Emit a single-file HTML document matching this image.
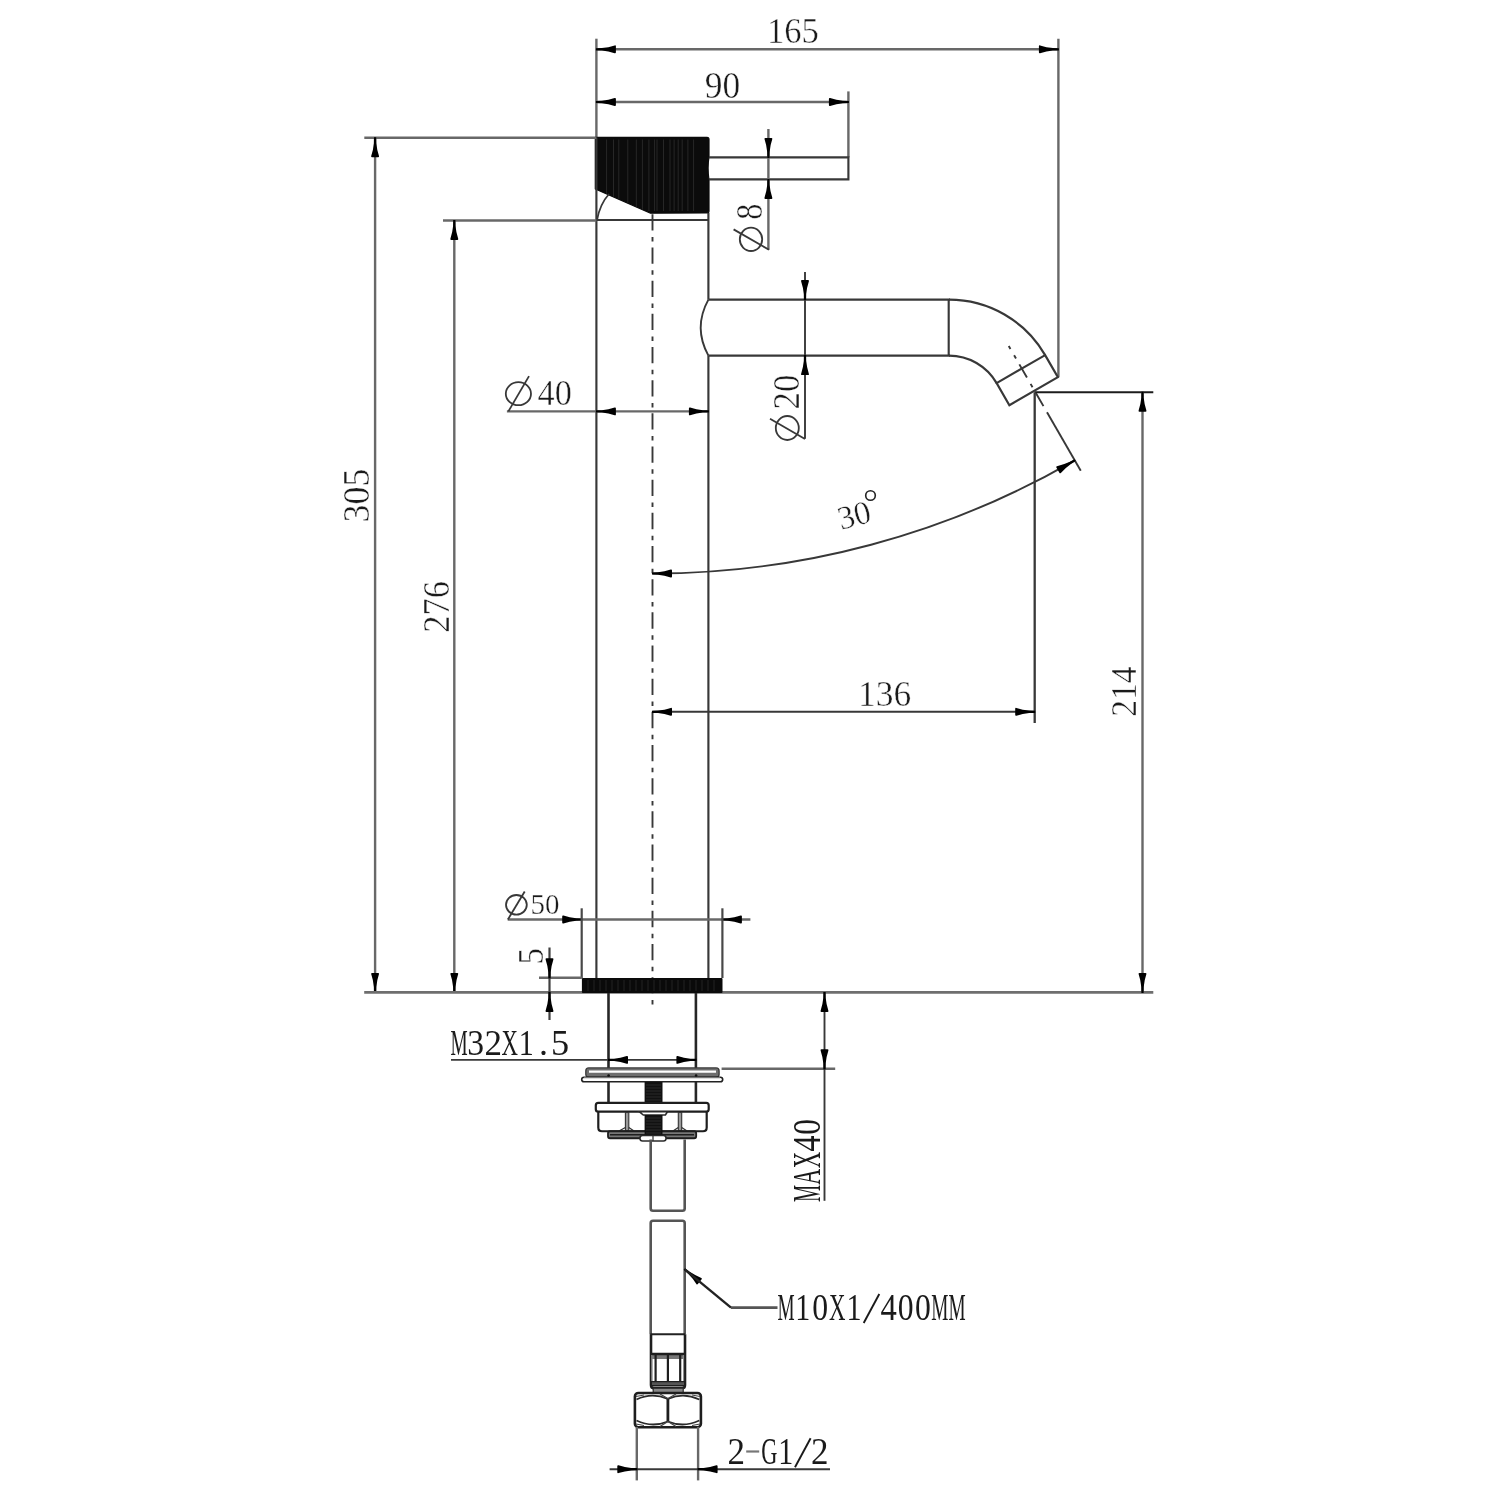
<!DOCTYPE html>
<html><head><meta charset="utf-8"><title>Faucet drawing</title>
<style>html,body{margin:0;padding:0;background:#fff;} svg{display:block;filter:blur(0.45px);}</style></head>
<body><svg width="1500" height="1500" viewBox="0 0 1500 1500" font-family="Liberation Serif, serif">
<defs><path id="ar" d="M0.5,-1.1 L-5.5,-1.2 Q-12,-1.8 -18.3,-3.9 Q-19.5,-4.2 -19.5,-3 L-19.5,3 Q-19.5,4.2 -18.3,3.9 Q-12,1.8 -5.5,1.2 L0.5,1.1 Z" fill="#000"/></defs>
<rect width="1500" height="1500" fill="#fff"/>
<line x1="596.40" y1="38.70" x2="596.40" y2="137.50" stroke="#686868" stroke-width="2.4" />
<line x1="1058.40" y1="38.70" x2="1058.40" y2="377.00" stroke="#686868" stroke-width="2.4" />
<line x1="596.40" y1="49.30" x2="1058.40" y2="49.30" stroke="#686868" stroke-width="2.4" />
<use href="#ar" transform="translate(596.40,49.30) rotate(180.00)"/>
<use href="#ar" transform="translate(1058.40,49.30) rotate(0.00)"/>
<line x1="596.40" y1="102.00" x2="848.40" y2="102.00" stroke="#686868" stroke-width="2.4" />
<line x1="848.40" y1="91.40" x2="848.40" y2="157.40" stroke="#686868" stroke-width="2.4" />
<use href="#ar" transform="translate(596.40,102.00) rotate(180.00)"/>
<use href="#ar" transform="translate(848.40,102.00) rotate(0.00)"/>
<path d="M595.3,137.3 L707,137.3 Q709,137.3 709,139.3 L709,156.4 Q707.2,168 709,180 L709,211 Q709,213 707,213 L650.5,213.2 L595.3,188.9 Z" fill="#0b0b0b" stroke="#0b0b0b" stroke-width="1.2" stroke-linejoin="round"/>
<clipPath id="hb"><path d="M595.5,137 L709,137 L709,213 L650.5,213 L596,189 Z"/></clipPath>
<line x1="606.6" y1="139.5" x2="606.6" y2="211" stroke="#272727" stroke-width="1" clip-path="url(#hb)"/>
<line x1="613.5" y1="139.5" x2="613.5" y2="211" stroke="#272727" stroke-width="1" clip-path="url(#hb)"/>
<line x1="618.8" y1="139.5" x2="618.8" y2="211" stroke="#272727" stroke-width="1" clip-path="url(#hb)"/>
<line x1="627.8" y1="139.5" x2="627.8" y2="211" stroke="#272727" stroke-width="1" clip-path="url(#hb)"/>
<line x1="636.3" y1="139.5" x2="636.3" y2="211" stroke="#272727" stroke-width="1" clip-path="url(#hb)"/>
<line x1="642.4" y1="139.5" x2="642.4" y2="211" stroke="#272727" stroke-width="1" clip-path="url(#hb)"/>
<line x1="648.9" y1="139.5" x2="648.9" y2="211" stroke="#272727" stroke-width="1" clip-path="url(#hb)"/>
<line x1="654.6" y1="139.5" x2="654.6" y2="211" stroke="#272727" stroke-width="1" clip-path="url(#hb)"/>
<line x1="657" y1="139.5" x2="657" y2="211" stroke="#272727" stroke-width="1" clip-path="url(#hb)"/>
<line x1="663.5" y1="139.5" x2="663.5" y2="211" stroke="#272727" stroke-width="1" clip-path="url(#hb)"/>
<line x1="670" y1="139.5" x2="670" y2="211" stroke="#272727" stroke-width="1" clip-path="url(#hb)"/>
<line x1="674.1" y1="139.5" x2="674.1" y2="211" stroke="#272727" stroke-width="1" clip-path="url(#hb)"/>
<line x1="678.2" y1="139.5" x2="678.2" y2="211" stroke="#272727" stroke-width="1" clip-path="url(#hb)"/>
<line x1="682.2" y1="139.5" x2="682.2" y2="211" stroke="#272727" stroke-width="1" clip-path="url(#hb)"/>
<line x1="687.9" y1="139.5" x2="687.9" y2="211" stroke="#272727" stroke-width="1" clip-path="url(#hb)"/>
<line x1="693.6" y1="139.5" x2="693.6" y2="211" stroke="#272727" stroke-width="1" clip-path="url(#hb)"/>
<path d="M597,220 Q600,204 609,194" stroke="#383838" stroke-width="1.8" fill="none" />
<path d="M709,157.4 L848.4,157.4 L848.4,179.4 L709,179.4" stroke="#383838" stroke-width="2.15" fill="none" />
<line x1="596.40" y1="137.50" x2="596.40" y2="978.00" stroke="#383838" stroke-width="2.15" />
<line x1="708.40" y1="213.00" x2="708.40" y2="299.60" stroke="#383838" stroke-width="2.15" />
<line x1="708.40" y1="355.60" x2="708.40" y2="978.00" stroke="#383838" stroke-width="2.15" />
<line x1="596.40" y1="220.00" x2="708.40" y2="220.00" stroke="#383838" stroke-width="2.15" />
<line x1="652.50" y1="214.30" x2="652.50" y2="1005.60" stroke="#383838" stroke-width="1.9" stroke-dasharray="16.3 6.5 4.5 5.87"/>
<line x1="364.30" y1="137.80" x2="596.40" y2="137.80" stroke="#686868" stroke-width="2.4" />
<line x1="375.10" y1="137.80" x2="375.10" y2="992.40" stroke="#686868" stroke-width="2.4" />
<use href="#ar" transform="translate(375.10,137.80) rotate(-90.00)"/>
<use href="#ar" transform="translate(375.10,992.40) rotate(90.00)"/>
<line x1="443.00" y1="220.50" x2="596.40" y2="220.50" stroke="#686868" stroke-width="2.4" />
<line x1="454.30" y1="220.50" x2="454.30" y2="992.40" stroke="#686868" stroke-width="2.4" />
<use href="#ar" transform="translate(454.30,220.50) rotate(-90.00)"/>
<use href="#ar" transform="translate(454.30,992.40) rotate(90.00)"/>
<line x1="364.20" y1="992.40" x2="1153.30" y2="992.40" stroke="#6e6e6e" stroke-width="2.8" />
<line x1="768.40" y1="129.00" x2="768.40" y2="249.80" stroke="#686868" stroke-width="2.4" />
<use href="#ar" transform="translate(768.40,157.40) rotate(90.00)"/>
<use href="#ar" transform="translate(768.40,179.40) rotate(-90.00)"/>
<ellipse cx="751" cy="239.3" rx="11.2" ry="11.7" fill="none" stroke="#383838" stroke-width="1.8"/>
<line x1="733.60" y1="229.40" x2="769.00" y2="249.80" stroke="#383838" stroke-width="1.8" />
<path d="M708.4,299.6 Q693,327.6 708.4,355.6" stroke="#383838" stroke-width="1.9" fill="none" />
<line x1="708.40" y1="299.60" x2="950.00" y2="299.60" stroke="#383838" stroke-width="2.15" />
<line x1="708.40" y1="355.60" x2="950.00" y2="355.60" stroke="#383838" stroke-width="2.15" />
<line x1="948.70" y1="299.60" x2="948.70" y2="355.60" stroke="#383838" stroke-width="2.15" />
<path d="M949,299.60 A111.0,111.0 0 0 1 1045.13,355.10" stroke="#383838" stroke-width="2.15" fill="none" />
<path d="M949,355.60 A55.0,55.0 0 0 1 996.63,383.10" stroke="#383838" stroke-width="2.15" fill="none" />
<path d="M1045.13,355.10 L1057.88,377.18 L1009.38,405.18 L996.63,383.10 Z" stroke="#383838" stroke-width="2.15" fill="none" />
<line x1="1008.75" y1="346.04" x2="1047.00" y2="412.29" stroke="#383838" stroke-width="1.9" stroke-dasharray="15.2 7.3 3.8 6.7" stroke-dashoffset="11.8"/>
<line x1="1047.00" y1="412.29" x2="1080.75" y2="470.75" stroke="#383838" stroke-width="1.9" />
<path d="M652.5,573.50 A844.5,844.5 0 0 0 1074.75,460.36" stroke="#383838" stroke-width="1.9" fill="none" />
<use href="#ar" transform="translate(652.50,573.50) rotate(180.00)"/>
<use href="#ar" transform="translate(1074.75,460.36) rotate(-30.00)"/>
<text x="0" y="0" font-family="Liberation Serif" font-size="33" fill="#1a1a1a" stroke="#fff" stroke-width="0.43" transform="translate(841,530) rotate(-15)">30</text>
<circle cx="870.5" cy="495.5" r="4.8" fill="none" stroke="#222" stroke-width="1.6"/>
<line x1="1034.70" y1="392.30" x2="1153.30" y2="392.30" stroke="#1c1c1c" stroke-width="2.1" />
<line x1="1034.70" y1="392.30" x2="1034.70" y2="723.00" stroke="#383838" stroke-width="2.3" />
<line x1="1142.50" y1="392.30" x2="1142.50" y2="992.40" stroke="#686868" stroke-width="2.4" />
<use href="#ar" transform="translate(1142.50,392.30) rotate(-90.00)"/>
<use href="#ar" transform="translate(1142.50,992.40) rotate(90.00)"/>
<line x1="652.50" y1="711.80" x2="1034.70" y2="711.80" stroke="#383838" stroke-width="1.9" />
<use href="#ar" transform="translate(652.50,711.80) rotate(180.00)"/>
<use href="#ar" transform="translate(1034.70,711.80) rotate(0.00)"/>
<line x1="805.00" y1="272.00" x2="805.00" y2="438.70" stroke="#383838" stroke-width="1.9" />
<use href="#ar" transform="translate(805.00,299.60) rotate(90.00)"/>
<use href="#ar" transform="translate(805.00,355.60) rotate(-90.00)"/>
<ellipse cx="787.3" cy="428" rx="11.5" ry="12" fill="none" stroke="#383838" stroke-width="1.8"/>
<line x1="770.00" y1="418.70" x2="805.00" y2="439.00" stroke="#383838" stroke-width="1.8" />
<line x1="506.90" y1="411.40" x2="708.40" y2="411.40" stroke="#686868" stroke-width="2.4" />
<use href="#ar" transform="translate(596.40,411.40) rotate(180.00)"/>
<use href="#ar" transform="translate(708.40,411.40) rotate(0.00)"/>
<ellipse cx="518.4" cy="393.7" rx="12.6" ry="11.5" fill="none" stroke="#383838" stroke-width="1.8"/>
<line x1="508.40" y1="411.40" x2="529.00" y2="376.10" stroke="#383838" stroke-width="1.8" />
<line x1="507.70" y1="919.50" x2="750.40" y2="919.50" stroke="#686868" stroke-width="2.4" />
<use href="#ar" transform="translate(581.70,919.50) rotate(0.00)"/>
<use href="#ar" transform="translate(722.40,919.50) rotate(180.00)"/>
<line x1="581.70" y1="908.30" x2="581.70" y2="978.00" stroke="#484848" stroke-width="2.2" />
<line x1="722.40" y1="908.30" x2="722.40" y2="978.00" stroke="#484848" stroke-width="2.2" />
<ellipse cx="516.4" cy="904.8" rx="10.4" ry="9.8" fill="none" stroke="#383838" stroke-width="1.8"/>
<line x1="507.90" y1="919.50" x2="524.70" y2="891.50" stroke="#383838" stroke-width="1.8" />
<rect x="581.9" y="978.1" width="140.6" height="14.8" fill="#0a0a0a" rx="1"/>
<line x1="588" y1="980" x2="588" y2="991" stroke="#2a2a2a" stroke-width="0.8"/>
<line x1="594" y1="980" x2="594" y2="991" stroke="#2a2a2a" stroke-width="0.8"/>
<line x1="600" y1="980" x2="600" y2="991" stroke="#2a2a2a" stroke-width="0.8"/>
<line x1="606" y1="980" x2="606" y2="991" stroke="#2a2a2a" stroke-width="0.8"/>
<line x1="612" y1="980" x2="612" y2="991" stroke="#2a2a2a" stroke-width="0.8"/>
<line x1="618" y1="980" x2="618" y2="991" stroke="#2a2a2a" stroke-width="0.8"/>
<line x1="624" y1="980" x2="624" y2="991" stroke="#2a2a2a" stroke-width="0.8"/>
<line x1="630" y1="980" x2="630" y2="991" stroke="#2a2a2a" stroke-width="0.8"/>
<line x1="636" y1="980" x2="636" y2="991" stroke="#2a2a2a" stroke-width="0.8"/>
<line x1="642" y1="980" x2="642" y2="991" stroke="#2a2a2a" stroke-width="0.8"/>
<line x1="648" y1="980" x2="648" y2="991" stroke="#2a2a2a" stroke-width="0.8"/>
<line x1="654" y1="980" x2="654" y2="991" stroke="#2a2a2a" stroke-width="0.8"/>
<line x1="660" y1="980" x2="660" y2="991" stroke="#2a2a2a" stroke-width="0.8"/>
<line x1="666" y1="980" x2="666" y2="991" stroke="#2a2a2a" stroke-width="0.8"/>
<line x1="672" y1="980" x2="672" y2="991" stroke="#2a2a2a" stroke-width="0.8"/>
<line x1="678" y1="980" x2="678" y2="991" stroke="#2a2a2a" stroke-width="0.8"/>
<line x1="684" y1="980" x2="684" y2="991" stroke="#2a2a2a" stroke-width="0.8"/>
<line x1="690" y1="980" x2="690" y2="991" stroke="#2a2a2a" stroke-width="0.8"/>
<line x1="696" y1="980" x2="696" y2="991" stroke="#2a2a2a" stroke-width="0.8"/>
<line x1="702" y1="980" x2="702" y2="991" stroke="#2a2a2a" stroke-width="0.8"/>
<line x1="708" y1="980" x2="708" y2="991" stroke="#2a2a2a" stroke-width="0.8"/>
<line x1="714" y1="980" x2="714" y2="991" stroke="#2a2a2a" stroke-width="0.8"/>
<line x1="539.00" y1="977.70" x2="581.90" y2="977.70" stroke="#686868" stroke-width="2.4" />
<line x1="549.50" y1="947.50" x2="549.50" y2="1020.00" stroke="#404040" stroke-width="2.2" />
<use href="#ar" transform="translate(549.50,977.70) rotate(90.00)"/>
<use href="#ar" transform="translate(549.50,992.40) rotate(-90.00)"/>
<line x1="608.50" y1="992.90" x2="608.50" y2="1103.00" stroke="#262626" stroke-width="2.6" />
<line x1="695.90" y1="992.90" x2="695.90" y2="1103.00" stroke="#262626" stroke-width="2.6" />
<line x1="451.00" y1="1059.90" x2="695.90" y2="1059.90" stroke="#383838" stroke-width="1.9" />
<use href="#ar" transform="translate(608.50,1059.90) rotate(180.00)"/>
<use href="#ar" transform="translate(695.90,1059.90) rotate(0.00)"/>
<rect x="585.8" y="1067.9" width="133.3" height="9.3" rx="3" fill="#6e6e6e" stroke="#3a3a3a" stroke-width="1.3"/>
<line x1="589" y1="1071.7" x2="716" y2="1071.7" stroke="#fff" stroke-width="2.2"/>
<rect x="581.7" y="1077.2" width="141" height="4.6" rx="2.3" fill="#fff" stroke="#222" stroke-width="1.6"/>
<line x1="584" y1="1077.6" x2="720" y2="1077.6" stroke="#777" stroke-width="1.2"/>
<circle cx="608.6" cy="1075.5" r="1.3" fill="#111"/><circle cx="696.1" cy="1075.5" r="1.3" fill="#111"/>
<line x1="721.60" y1="1068.80" x2="835.20" y2="1068.80" stroke="#686868" stroke-width="2.4" />
<line x1="824.50" y1="992.40" x2="824.50" y2="1200.80" stroke="#383838" stroke-width="1.9" />
<use href="#ar" transform="translate(824.50,992.40) rotate(-90.00)"/>
<use href="#ar" transform="translate(824.50,1068.80) rotate(90.00)"/>
<rect x="644.6" y="1082" width="17.9" height="21" fill="#111"/>
<line x1="646" y1="1085" x2="661" y2="1085" stroke="#333" stroke-width="0.7"/>
<line x1="646" y1="1088" x2="661" y2="1088" stroke="#333" stroke-width="0.7"/>
<line x1="646" y1="1091" x2="661" y2="1091" stroke="#333" stroke-width="0.7"/>
<line x1="646" y1="1094" x2="661" y2="1094" stroke="#333" stroke-width="0.7"/>
<line x1="646" y1="1097" x2="661" y2="1097" stroke="#333" stroke-width="0.7"/>
<line x1="646" y1="1100" x2="661" y2="1100" stroke="#333" stroke-width="0.7"/>
<rect x="595.8" y="1102.9" width="112.9" height="8.8" rx="2.5" fill="#fff" stroke="#1e1e1e" stroke-width="2.2"/>
<path d="M598.3,1111.7 L598.3,1127.5 Q598.3,1131.25 602,1131.25 L703,1131.25 Q706.7,1131.25 706.7,1127.5 L706.7,1111.7" stroke="#1e1e1e" stroke-width="2.2" fill="none" />
<path d="M639.2,1111.7 L643.3,1115 L665.4,1115 L667.5,1111.7 Z" fill="#fff" stroke="#2a2a2a" stroke-width="1.6"/>
<rect x="625.4" y="1112.5" width="3.4" height="18" fill="#999" stroke="#333" stroke-width="1.1"/>
<rect x="678.3" y="1112.5" width="3.4" height="18" fill="#999" stroke="#333" stroke-width="1.1"/>
<path d="M619,1131 L625.4,1127.5 M628.8,1127.5 L634,1131 M673,1131 L678.3,1127.5 M681.7,1127.5 L687,1131" stroke="#333" stroke-width="1.3" fill="none" />
<rect x="608" y="1131.25" width="88.2" height="7" rx="2" fill="#777" stroke="#1e1e1e" stroke-width="1.8"/>
<line x1="610" y1="1134.8" x2="694" y2="1134.8" stroke="#1e1e1e" stroke-width="1.4"/>
<rect x="644.6" y="1115" width="17.9" height="21" fill="#111"/>
<line x1="646" y1="1118" x2="661" y2="1118" stroke="#333" stroke-width="0.7"/>
<line x1="646" y1="1121" x2="661" y2="1121" stroke="#333" stroke-width="0.7"/>
<line x1="646" y1="1124" x2="661" y2="1124" stroke="#333" stroke-width="0.7"/>
<line x1="646" y1="1127" x2="661" y2="1127" stroke="#333" stroke-width="0.7"/>
<line x1="646" y1="1130" x2="661" y2="1130" stroke="#333" stroke-width="0.7"/>
<line x1="646" y1="1133" x2="661" y2="1133" stroke="#333" stroke-width="0.7"/>
<rect x="640" y="1135.5" width="26" height="5.5" rx="2.5" fill="#fff" stroke="#2a2a2a" stroke-width="1.5"/>
<line x1="653.00" y1="1136.00" x2="653.00" y2="1141.00" stroke="#2a2a2a" stroke-width="1.2" />
<path d="M650.7,1139.5 L650.7,1208.5 Q650.7,1210.7 653,1210.7 L682.4,1210.7 Q684.7,1210.7 684.7,1208.5 L684.7,1139.5" stroke="#555" stroke-width="2.6" fill="none" />
<path d="M650.7,1334.3 L650.7,1223 Q650.7,1220.7 653,1220.7 L682.4,1220.7 Q684.7,1220.7 684.7,1223 L684.7,1334.3" stroke="#555" stroke-width="2.6" fill="none" />
<use href="#ar" transform="translate(684.70,1269.30) rotate(219.40)"/>
<path d="M684.7,1269.3 L731,1307.6" stroke="#222" stroke-width="2.4" fill="none" />
<path d="M731,1307.6 L777.5,1307.6" stroke="#555" stroke-width="2.6" fill="none" />
<path d="M650.4,1334.3 L685,1334.3" stroke="#222" stroke-width="2" fill="none" />
<path d="M651,1334.3 L651,1385 Q651,1388.2 654,1388.2 L682,1388.2 Q685,1388.2 685,1385 L685,1334.3" stroke="#1e1e1e" stroke-width="2.6" fill="none" />
<rect x="652" y="1354" width="32" height="5" fill="#777"/>
<line x1="651" y1="1354" x2="685" y2="1354" stroke="#1e1e1e" stroke-width="2.4"/>
<line x1="655.60" y1="1355.00" x2="655.60" y2="1382.00" stroke="#1e1e1e" stroke-width="2.2" />
<line x1="667.90" y1="1355.00" x2="667.90" y2="1382.00" stroke="#1e1e1e" stroke-width="2.2" />
<line x1="680.20" y1="1355.00" x2="680.20" y2="1382.00" stroke="#1e1e1e" stroke-width="2.2" />
<line x1="651.70" y1="1355.00" x2="651.70" y2="1382.00" stroke="#888" stroke-width="1" />
<line x1="683.60" y1="1355.00" x2="683.60" y2="1382.00" stroke="#888" stroke-width="1" />
<rect x="652" y="1381.3" width="32" height="4.8" fill="#555"/>
<line x1="651.00" y1="1381.60" x2="685.00" y2="1381.60" stroke="#1e1e1e" stroke-width="1.4" />
<line x1="651.00" y1="1385.80" x2="685.00" y2="1385.80" stroke="#1e1e1e" stroke-width="1.4" />
<rect x="653.2" y="1388.2" width="30" height="4.8" fill="#888" stroke="#2a2a2a" stroke-width="1.2"/>
<rect x="634.9" y="1393" width="66" height="34.2" rx="3.5" fill="#fff" stroke="#1e1e1e" stroke-width="2.6"/>
<line x1="667.90" y1="1398.50" x2="667.90" y2="1421.50" stroke="#1e1e1e" stroke-width="2.8" />
<path d="M636.5,1399.5 Q652,1392.2 667.9,1399 Q683.5,1392.2 699.3,1399.5" stroke="#2a2a2a" stroke-width="1.8" fill="none" />
<path d="M636.5,1420.5 Q652,1428 667.9,1421.5 Q683.5,1428 699.3,1420.5" stroke="#2a2a2a" stroke-width="1.8" fill="none" />
<path d="M660,1394 L667.9,1398.5 L676,1394 M660,1426.5 L667.9,1421.5 L676,1426.5" stroke="#444" stroke-width="1.2" fill="none" />
<path d="M636,1396.5 L644,1395 M692,1395 L700,1396.5 M636,1424 L644,1425.5 M692,1425.5 L700,1424" stroke="#444" stroke-width="1.2" fill="none" />
<line x1="636.80" y1="1427.00" x2="636.80" y2="1480.40" stroke="#686868" stroke-width="2.4" />
<line x1="698.10" y1="1427.00" x2="698.10" y2="1480.40" stroke="#686868" stroke-width="2.4" />
<line x1="609.60" y1="1469.20" x2="830.00" y2="1469.20" stroke="#383838" stroke-width="1.9" />
<use href="#ar" transform="translate(636.80,1469.20) rotate(0.00)"/>
<use href="#ar" transform="translate(698.10,1469.20) rotate(180.00)"/>
<text x="0" y="0" font-family="Liberation Serif" font-weight="normal" font-size="100" fill="#1a1a1a" stroke="#fff" stroke-width="1.2" transform="matrix(0.34599,0,0,0.35294,766.886,42.894)">165</text>
<text x="0" y="0" font-family="Liberation Serif" font-weight="normal" font-size="100" fill="#1a1a1a" stroke="#fff" stroke-width="1.2" transform="matrix(0.35484,0,0,0.37313,704.735,97.554)">90</text>
<text x="0" y="0" font-family="Liberation Serif" font-weight="normal" font-size="100" fill="#1a1a1a" stroke="#fff" stroke-width="1.2" transform="matrix(0,-0.35957,0.36866,0,369.263,522.498)">305</text>
<text x="0" y="0" font-family="Liberation Serif" font-weight="normal" font-size="100" fill="#1a1a1a" stroke="#fff" stroke-width="1.2" transform="matrix(0,-0.34476,0.37761,0,448.545,632.679)">276</text>
<text x="0" y="0" font-family="Liberation Serif" font-weight="normal" font-size="100" fill="#1a1a1a" stroke="#fff" stroke-width="1.2" transform="matrix(0,-0.32143,0.37313,0,762.254,219.786)">8</text>
<text x="0" y="0" font-family="Liberation Serif" font-weight="normal" font-size="100" fill="#1a1a1a" stroke="#fff" stroke-width="1.2" transform="matrix(0,-0.33333,0.36364,0,1136.300,716.633)">214</text>
<text x="0" y="0" font-family="Liberation Serif" font-weight="normal" font-size="100" fill="#1a1a1a" stroke="#fff" stroke-width="1.2" transform="matrix(0.35507,0,0,0.35000,858.104,705.500)">136</text>
<text x="0" y="0" font-family="Liberation Serif" font-weight="normal" font-size="100" fill="#1a1a1a" stroke="#fff" stroke-width="1.2" transform="matrix(0,-0.34783,0.37313,0,799.254,409.391)">20</text>
<text x="0" y="0" font-family="Liberation Serif" font-weight="normal" font-size="100" fill="#1a1a1a" stroke="#fff" stroke-width="1.2" transform="matrix(0.34255,0,0,0.36567,537.615,405.269)">40</text>
<text x="0" y="0" font-family="Liberation Serif" font-weight="normal" font-size="100" fill="#1a1a1a" stroke="#fff" stroke-width="1.2" transform="matrix(0.29000,0,0,0.28955,530.460,914.321)">50</text>
<text x="0" y="0" font-family="Liberation Serif" font-weight="normal" font-size="100" fill="#1a1a1a" stroke="#fff" stroke-width="1.2" transform="matrix(0,-0.33250,0.36515,0,542.935,964.495)">5</text>
<text x="0" y="0" font-family="Liberation Serif" font-size="100" fill="#1a1a1a" transform="matrix(0.19277,0,0,0.36000,450.422,1054.900)">M</text>
<text x="0" y="0" font-family="Liberation Serif" font-size="100" fill="#1a1a1a" transform="matrix(0.33659,0,0,0.36000,467.317,1054.900)">3</text>
<text x="0" y="0" font-family="Liberation Serif" font-size="100" fill="#1a1a1a" transform="matrix(0.35000,0,0,0.36000,484.400,1054.900)">2</text>
<text x="0" y="0" font-family="Liberation Serif" font-size="100" fill="#1a1a1a" transform="matrix(0.22794,0,0,0.36000,501.494,1054.900)">X</text>
<text x="0" y="0" font-family="Liberation Serif" font-size="100" fill="#1a1a1a" transform="matrix(0.30000,0,0,0.36000,518.650,1054.900)">1</text>
<text x="0" y="0" font-family="Liberation Serif" font-size="100" fill="#1a1a1a" transform="matrix(0.36000,0,0,0.36000,539.000,1054.900)">.</text>
<text x="0" y="0" font-family="Liberation Serif" font-size="100" fill="#1a1a1a" transform="matrix(0.36250,0,0,0.36000,550.975,1054.900)">5</text>
<text x="0" y="0" font-family="Liberation Serif" font-size="100" fill="#1a1a1a" transform="matrix(0,-0.19277,0.39385,0,820.000,1201.878)">M</text>
<text x="0" y="0" font-family="Liberation Serif" font-size="100" fill="#1a1a1a" transform="matrix(0,-0.22143,0.39385,0,820.000,1184.671)">A</text>
<text x="0" y="0" font-family="Liberation Serif" font-size="100" fill="#1a1a1a" transform="matrix(0,-0.22794,0.39385,0,820.000,1168.306)">X</text>
<text x="0" y="0" font-family="Liberation Serif" font-size="100" fill="#1a1a1a" transform="matrix(0,-0.32609,0.39385,0,820.000,1151.652)">4</text>
<text x="0" y="0" font-family="Liberation Serif" font-size="100" fill="#1a1a1a" transform="matrix(0,-0.31667,0.39385,0,820.000,1134.817)">0</text>
<text x="0" y="0" font-family="Liberation Serif" font-size="100" fill="#1a1a1a" transform="matrix(0.19277,0,0,0.36923,777.422,1320.000)">M</text>
<text x="0" y="0" font-family="Liberation Serif" font-size="100" fill="#1a1a1a" transform="matrix(0.30000,0,0,0.36923,795.150,1320.000)">1</text>
<text x="0" y="0" font-family="Liberation Serif" font-size="100" fill="#1a1a1a" transform="matrix(0.31667,0,0,0.36923,812.283,1320.000)">0</text>
<text x="0" y="0" font-family="Liberation Serif" font-size="100" fill="#1a1a1a" transform="matrix(0.22794,0,0,0.36923,829.094,1320.000)">X</text>
<text x="0" y="0" font-family="Liberation Serif" font-size="100" fill="#1a1a1a" transform="matrix(0.30000,0,0,0.36923,846.450,1320.000)">1</text>
<line x1="863.70" y1="1323.00" x2="879.30" y2="1294.00" stroke="#1a1a1a" stroke-width="1.9"/>
<text x="0" y="0" font-family="Liberation Serif" font-size="100" fill="#1a1a1a" transform="matrix(0.32609,0,0,0.36923,880.448,1320.000)">4</text>
<text x="0" y="0" font-family="Liberation Serif" font-size="100" fill="#1a1a1a" transform="matrix(0.31667,0,0,0.36923,897.783,1320.000)">0</text>
<text x="0" y="0" font-family="Liberation Serif" font-size="100" fill="#1a1a1a" transform="matrix(0.31667,0,0,0.36923,914.883,1320.000)">0</text>
<text x="0" y="0" font-family="Liberation Serif" font-size="100" fill="#1a1a1a" transform="matrix(0.19277,0,0,0.36923,931.322,1320.000)">M</text>
<text x="0" y="0" font-family="Liberation Serif" font-size="100" fill="#1a1a1a" transform="matrix(0.19277,0,0,0.36923,948.422,1320.000)">M</text>
<text x="0" y="0" font-family="Liberation Serif" font-size="100" fill="#1a1a1a" transform="matrix(0.35000,0,0,0.36923,727.600,1464.300)">2</text>
<line x1="746.20" y1="1451.50" x2="759.20" y2="1451.50" stroke="#777" stroke-width="2.2"/>
<text x="0" y="0" font-family="Liberation Serif" font-size="100" fill="#1a1a1a" transform="matrix(0.22308,0,0,0.36923,761.258,1464.300)">G</text>
<text x="0" y="0" font-family="Liberation Serif" font-size="100" fill="#1a1a1a" transform="matrix(0.30000,0,0,0.36923,778.150,1464.300)">1</text>
<line x1="795.00" y1="1467.30" x2="810.60" y2="1438.30" stroke="#1a1a1a" stroke-width="1.9"/>
<text x="0" y="0" font-family="Liberation Serif" font-size="100" fill="#1a1a1a" transform="matrix(0.35000,0,0,0.36923,811.100,1464.300)">2</text>
</svg></body></html>
